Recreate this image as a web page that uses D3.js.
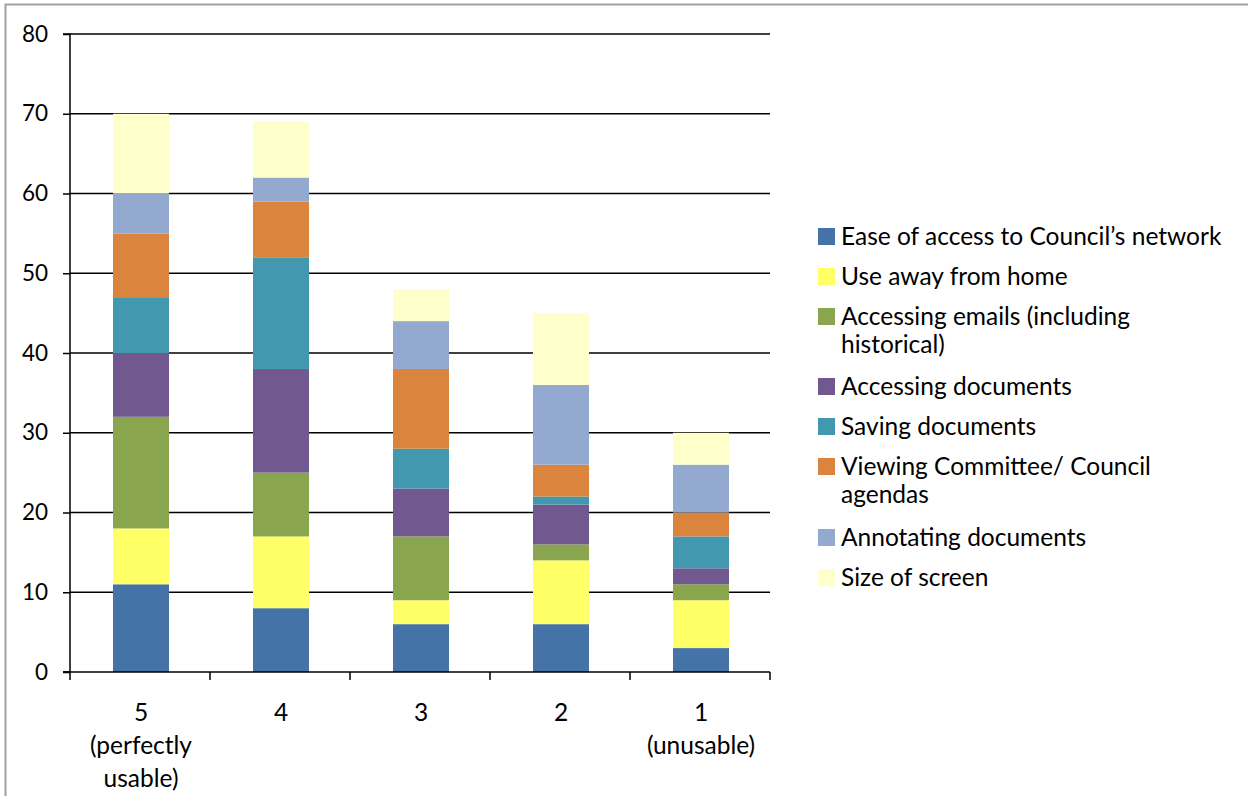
<!DOCTYPE html>
<html><head><meta charset="utf-8">
<script src="https://cdn.jsdelivr.net/npm/d3@7"></script>
<style>body{margin:0;background:#fff;} svg{display:block;font-family:Lato,"Open Sans",sans-serif;}</style>
</head><body><svg id="c" width="1248" height="796"></svg>
<script>
const categories = ["5", "4", "3", "2", "1"];
const categoryLabels = [["5","(perfectly","usable)"],["4"],["3"],["2"],["1","(unusable)"]];
const seriesNames = ["Ease of access to Council\u2019s network","Use away from home","Accessing emails (including historical)","Accessing documents","Saving documents","Viewing Committee/ Council agendas","Annotating  documents","Size of screen"];
const legendLines = [["Ease of access to Council\u2019s network"],["Use away from home"],["Accessing emails (including","historical)"],["Accessing documents"],["Saving documents"],["Viewing Committee/ Council","agendas"],["Annotating  documents"],["Size of screen"]];
const easeAccess = [11, 8, 6, 6, 3];
const useAway = [7, 9, 3, 8, 6];
const accessingEmails = [14, 8, 8, 2, 2];
const accessingDocs = [8, 13, 6, 5, 2];
const savingDocs = [7, 14, 5, 1, 4];
const viewingAgendas = [8, 7, 10, 4, 3];
const annotatingDocs = [5, 3, 6, 10, 6];
const sizeScreen = [10, 7, 4, 9, 4];
const yTicks = [0,10,20,30,40,50,60,70,80];
const colors = ["#4572A7","#FFFF66","#89A54E","#71588F","#4198AF","#DB843D","#93A9CF","#FFFFCC"];

const seriesValues = [easeAccess,useAway,accessingEmails,accessingDocs,savingDocs,viewingAgendas,annotatingDocs,sizeScreen];
const rows = categories.map((c,i)=>{const r={cat:c}; seriesNames.forEach((s,j)=>r[s]=seriesValues[j][i]); return r;});
const stacked = d3.stack().keys(seriesNames)(rows);

const svg = d3.select("#c");
svg.append("rect").attr("x",5.5).attr("y",4.5).attr("width",1260).attr("height",820).attr("fill","none").attr("stroke","#a0a0a0").attr("stroke-width",2);

const L=70,R=770,T=34,B=672;
const x = d3.scaleBand().domain(categories).range([L,R]).paddingInner(0.6).paddingOuter(0.3);
const y = d3.scaleLinear().domain([0,80]).range([B,T]);

svg.append("g").selectAll("line").data(yTicks.filter(t=>t>0)).join("line")
 .attr("x1",L).attr("x2",R).attr("y1",d=>y(d)).attr("y2",d=>y(d)).attr("stroke","#000").attr("stroke-width",1.5);

svg.append("g").selectAll("g").data(stacked).join("g").attr("fill",(d,i)=>colors[i])
 .selectAll("rect").data(d=>d).join("rect")
 .attr("x",d=>x(d.data.cat)+1).attr("width",x.bandwidth())
 .attr("y",d=>y(d[1])).attr("height",d=>y(d[0])-y(d[1]));

const yAxis = d3.axisLeft(y).tickValues(yTicks).tickSize(7).tickPadding(15);
const gy = svg.append("g").attr("transform",`translate(${L},0)`).call(yAxis);
gy.select(".domain").attr("stroke","#000").attr("stroke-width",1.5).attr("d",`M-7,${T}H0V${B}H-7`);
gy.selectAll(".tick line").attr("stroke","#000").attr("stroke-width",1.5);
gy.selectAll("text").attr("font-size",22.5).attr("fill","#000").style("font-family","Lato,'Open Sans',sans-serif");

svg.append("line").attr("x1",L-7).attr("x2",R).attr("y1",B).attr("y2",B).attr("stroke","#000").attr("stroke-width",1.5);
const bounds = d3.range(categories.length+1).map(i=>L+i*(R-L)/categories.length);
svg.append("g").selectAll("line").data(bounds).join("line")
 .attr("x1",d=>d).attr("x2",d=>d).attr("y1",B).attr("y2",B+8).attr("stroke","#000").attr("stroke-width",1.5);
const xl = svg.append("g").selectAll("text").data(categories).join("text")
 .attr("x",d=>x(d)+x.bandwidth()/2+1).attr("y",721).attr("text-anchor","middle").attr("font-size",24.5).attr("fill","#000");
xl.each(function(d,i){
  d3.select(this).selectAll("tspan").data(categoryLabels[i]).join("tspan")
   .attr("x",x(d)+x.bandwidth()/2+1).attr("dy",(t,k)=>k===0?0:33).text(t=>t);
});

const legendY = [236,276,316,386,426,466,537,577];
const lg = svg.append("g");
legendLines.forEach((lines,i)=>{
  lg.append("rect").attr("x",818).attr("y",legendY[i]-8).attr("width",17).attr("height",17).attr("fill",colors[i]);
  const t = lg.append("text").attr("x",841).attr("y",legendY[i]+9).attr("font-size",24.5).attr("fill","#000");
  lines.forEach((ln,k)=>t.append("tspan").attr("x",841).attr("dy",k===0?0:28).text(ln));
});
</script></body></html>
